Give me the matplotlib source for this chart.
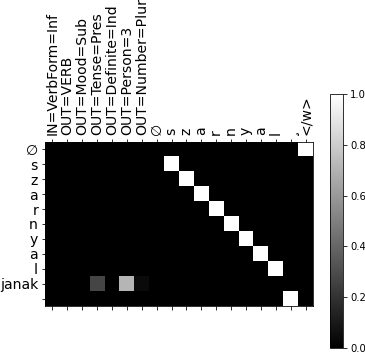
import numpy as np
import matplotlib
matplotlib.use("Agg")
import matplotlib.pyplot as plt

# source (columns) and target (rows) symbols
in_labels = ["IN=VerbForm=Inf", "OUT=VERB", "OUT=Mood=Sub", "OUT=Tense=Pres",
             "OUT=Definite=Ind", "OUT=Person=3", "OUT=Number=Plur",
             "\u2205", "s", "z", "a", "r", "n", "y", "a", "l", "\u00b8", "</w>"]
out_labels = ["\u2205", "s", "z", "a", "r", "n", "y", "a", "l", "janak", ""]

# attention weights: (row, col, value); everything else is 0
cells_row = [0, 1, 2, 3, 4, 5, 6, 7, 8, 9, 9, 9, 10]
cells_col = [17, 8, 9, 10, 11, 12, 13, 14, 15, 3, 5, 6, 16]
cells_val = [1.0, 1.0, 1.0, 1.0, 1.0, 1.0, 1.0, 1.0, 1.0, 0.27, 0.71, 0.04, 1.0]

attn = np.zeros((len(out_labels), len(in_labels)))
attn[cells_row, cells_col] = cells_val

fig = plt.figure(figsize=(365 / 72, 357 / 72), dpi=72)
ax = fig.add_axes([0.1233, 0.1429, 0.7342, 0.4594])
cax = fig.add_axes([0.904, 0.0252, 0.0356, 0.7115])

im = ax.matshow(attn, cmap="gray", vmin=0, vmax=1, aspect="auto")
ax.set_xticks(np.arange(len(in_labels)))
ax.set_xticklabels(in_labels, rotation=90, fontsize=14)
ax.set_yticks(np.arange(len(out_labels)))
ax.set_yticklabels(out_labels, fontsize=14)

cb = fig.colorbar(im, cax=cax)
cb.ax.tick_params(labelsize=10)

plt.savefig("out.png", dpi=72)
